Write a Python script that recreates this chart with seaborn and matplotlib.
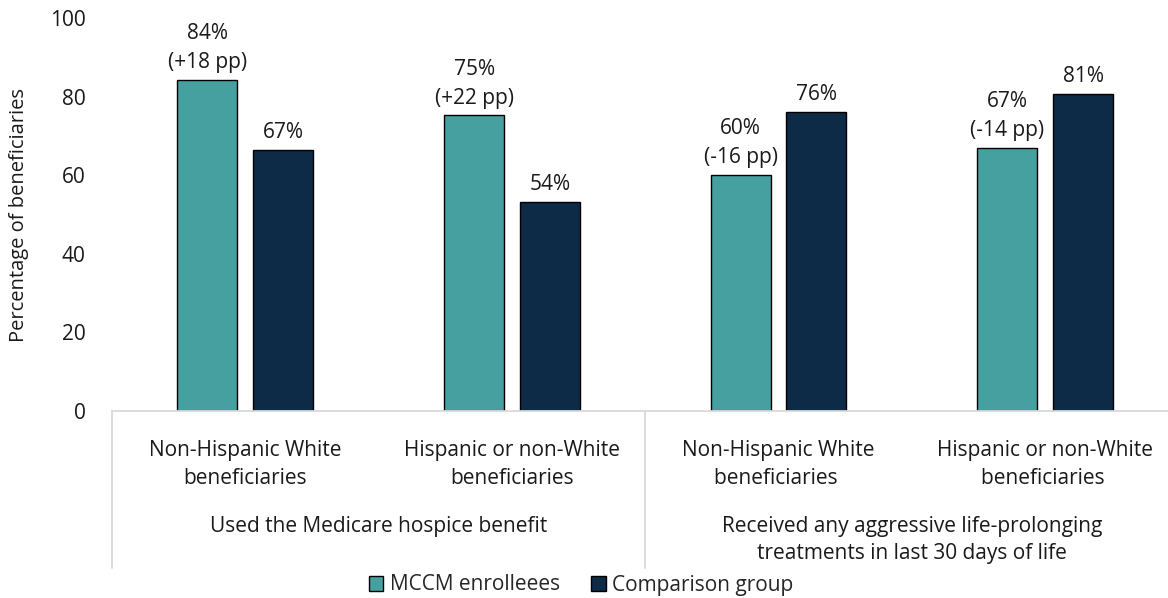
import matplotlib
matplotlib.use("Agg")
import matplotlib.pyplot as plt
import matplotlib.transforms as mtransforms
from matplotlib.patches import Patch
import seaborn as sns
import pandas as pd

# ---- data ----
groups = ["Used the Medicare hospice benefit",
          "Received any aggressive life-prolonging\ntreatments in last 30 days of life"]
subgroups = ["Non-Hispanic White\nbeneficiaries", "Hispanic or non-White\nbeneficiaries",
             "Non-Hispanic White\nbeneficiaries ", "Hispanic or non-White\nbeneficiaries "]
series = ["MCCM enrolleees", "Comparison group"]
mccm = [84.3, 75.2, 60.1, 66.9]
comparison = [66.4, 53.3, 76.2, 80.6]
mccm_labels = ["84%\n(+18 pp)", "75%\n(+22 pp)", "60%\n(-16 pp)", "67%\n(-14 pp)"]
comparison_labels = ["67%", "54%", "76%", "81%"]
yticks = [0, 20, 40, 60, 80, 100]

colors = ["#46a09f", "#0d2a47"]

df = pd.DataFrame({
    "cat": subgroups * 2,
    "series": [series[0]] * 4 + [series[1]] * 4,
    "value": mccm + comparison,
})

sns.set_style("white")
plt.rcParams["font.family"] = ["Open Sans", "DejaVu Sans"]
FS = 15
TXT = "#1a1a1a"

fig = plt.figure(figsize=(11.68, 5.98), dpi=100)
W, H = 1168, 598
AX_L, AX_R, AX_B, AX_T = 112, 1178.5, 411, 18
ax = fig.add_axes([AX_L / W, (H - AX_B) / H, (AX_R - AX_L) / W, (AX_B - AX_T) / H])
AH = AX_B - AX_T
AW = AX_R - AX_L

sns.barplot(data=df, x="cat", y="value", hue="series", order=subgroups,
            hue_order=series, palette=colors, saturation=1, width=0.568, gap=0.208,
            edgecolor="black", linewidth=1.0, ax=ax, legend=False)

ax.set_xlim(-0.5, 3.5)
ax.set_ylim(0, 100)
ax.set_yticks(yticks)
ax.set_yticklabels([str(t) for t in yticks], fontsize=FS, color=TXT)
ax.tick_params(axis="y", length=0, pad=19)
ax.set_ylabel("Percentage of beneficiaries", fontsize=14.5, color=TXT)
ax.yaxis.set_label_coords(-(AX_L - 29) / AW, 0.5)

ax.set_xticks(range(4))
ax.set_xticklabels(subgroups, fontsize=FS, color=TXT, linespacing=1.4)
ax.tick_params(axis="x", length=0, pad=21)
ax.set_xlabel("")

for s in ["top", "right", "left"]:
    ax.spines[s].set_visible(False)
ax.spines["bottom"].set_color("#d9d9d9")
ax.spines["bottom"].set_linewidth(1.3)

# value labels
all_labels = [mccm_labels, comparison_labels]
for cont, labs in zip(ax.containers, all_labels):
    for bar, lab in zip(cont, labs):
        ax.annotate(lab, (bar.get_x() + bar.get_width() / 2, bar.get_height()),
                    xytext=(0, 5), textcoords="offset points", ha="center",
                    va="bottom", fontsize=FS, color=TXT, linespacing=1.5)

# group labels and separators
trans = mtransforms.blended_transform_factory(ax.transData, ax.transAxes)
bottom_ax = -(568 - AX_B) / AH
for i, g in enumerate(groups):
    ax.text(0.5 + 2 * i, -(516 - AX_B) / AH, g, transform=trans,
            ha="center", va="top", fontsize=FS, color=TXT, linespacing=1.35,
            clip_on=False)
for xsep in [-0.5, 1.5, 3.5]:
    ax.plot([xsep, xsep], [0, bottom_ax], transform=trans, color="#d9d9d9",
            lw=1.3, clip_on=False)

# legend
handles = [Patch(facecolor=c, edgecolor="black", linewidth=1.0) for c in colors]
fig.legend(handles, series, loc="center", bbox_to_anchor=(581 / W, 1 - 585 / H),
           ncol=2, frameon=False, fontsize=FS, handlelength=0.7, handleheight=0.7,
           handletextpad=0.3, columnspacing=1.5, borderaxespad=0, borderpad=0)

fig.savefig("out.png", dpi=100)
